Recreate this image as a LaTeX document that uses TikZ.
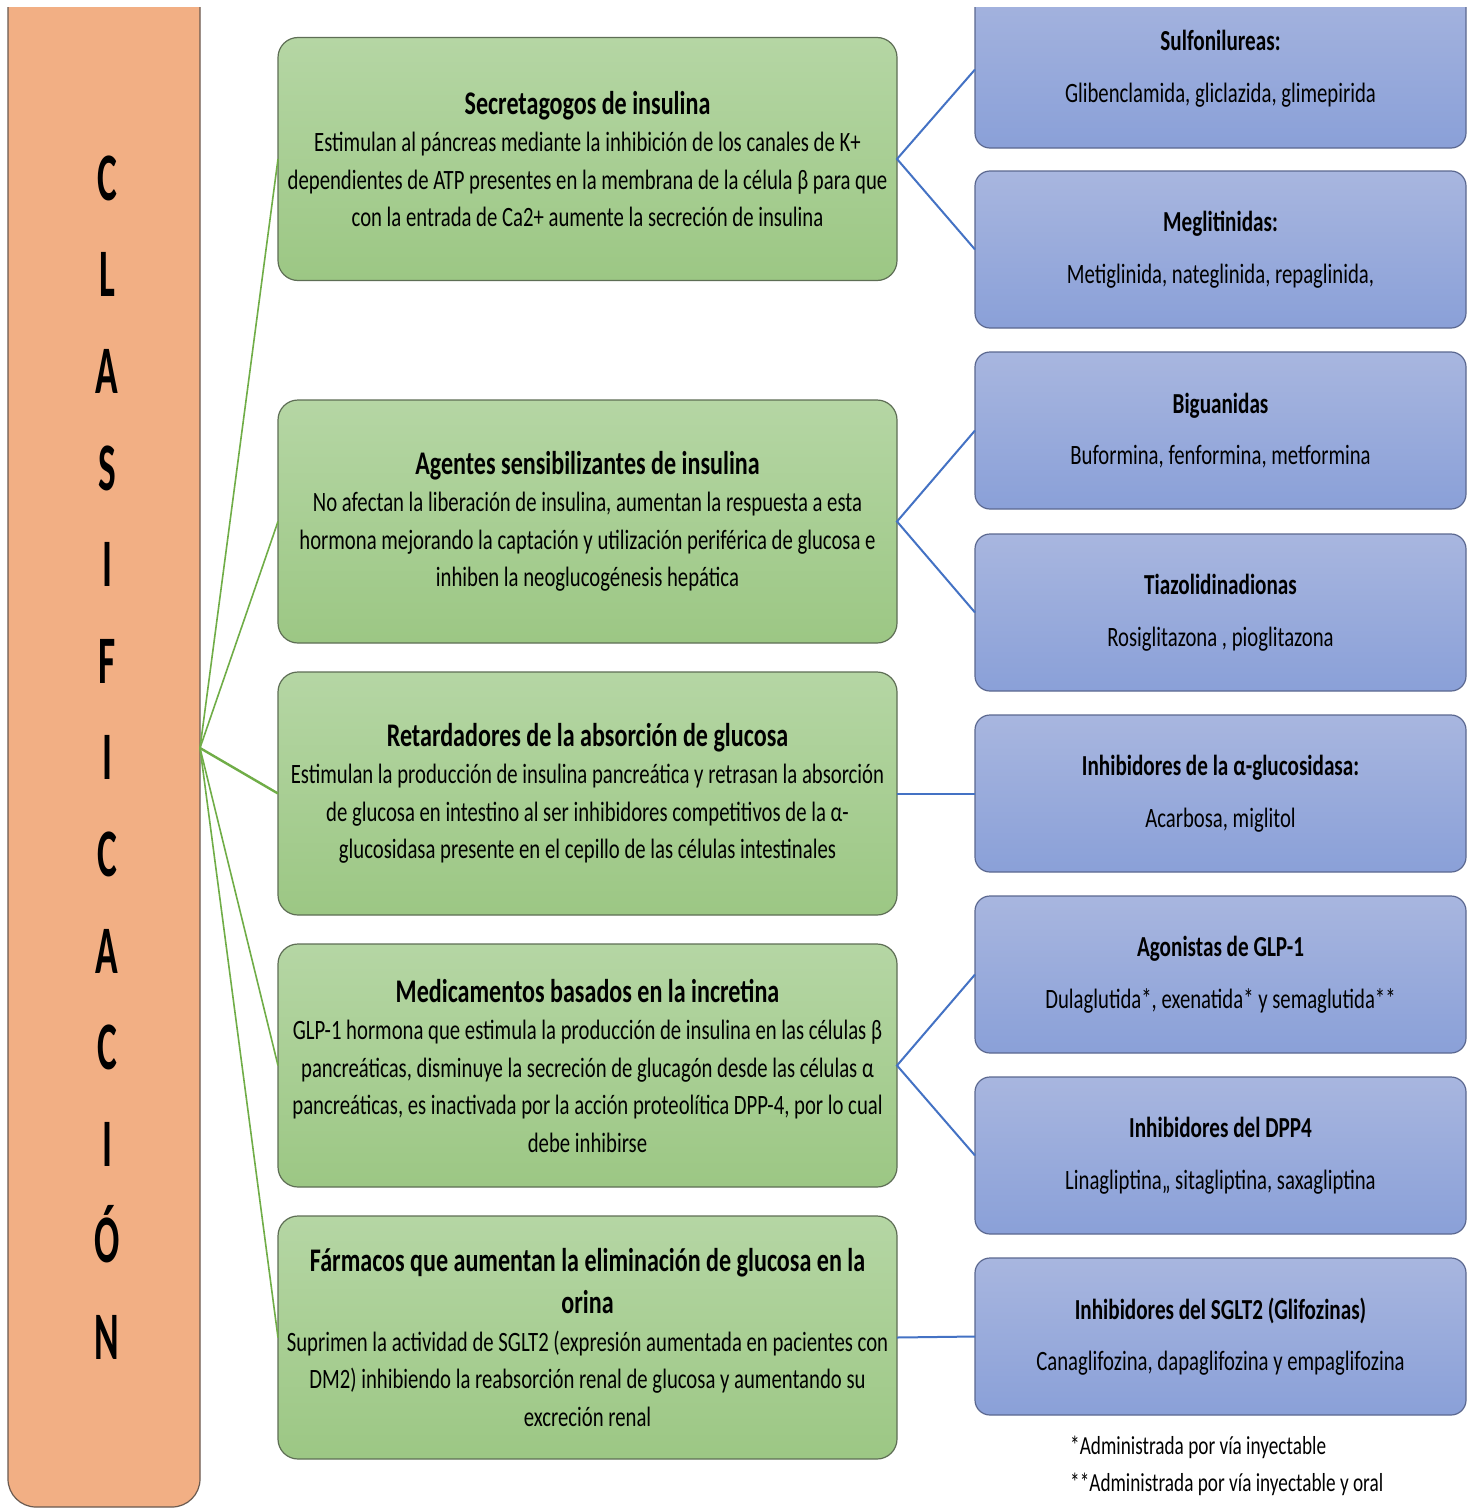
\documentclass[tikz,border=0pt]{standalone}
\usepackage{fontspec}
\setmainfont{Carlito}[FakeStretch=0.74]
\newfontfamily\titlefam{Carlito}[FakeStretch=0.73]
\newfontfamily\bigletters{Carlito}[FakeStretch=0.55]
\definecolor{orangefill}{HTML}{F2AF84}
\definecolor{greentop}{HTML}{B5D6A4}
\definecolor{greenbot}{HTML}{9CC784}
\definecolor{bluetop}{HTML}{A8B6DF}
\definecolor{bluebot}{HTML}{8AA0D8}
\definecolor{greenline}{HTML}{70AD47}
\definecolor{blueline}{HTML}{4472C4}
\definecolor{greenborder}{HTML}{5E6E55}
\definecolor{blueborder}{HTML}{5B6890}
\definecolor{orangeborder}{HTML}{6A5A50}
\newcommand{\gtitle}{\titlefam\fontsize{33}{43}\selectfont\bfseries}
\newcommand{\btitle}{\titlefam\fontsize{29}{40}\selectfont\bfseries}
\tikzset{
  greenbox/.style={draw=greenborder, line width=1.2pt, rounded corners=20pt,
    top color=greentop, bottom color=greenbot, minimum width=619pt,
    minimum height=243pt, inner sep=0pt, outer sep=0pt},
  bluebox/.style={draw=blueborder, line width=1.2pt, rounded corners=15pt,
    top color=bluetop, bottom color=bluebot, minimum width=491pt,
    minimum height=157pt, inner sep=0pt, outer sep=0pt},
  gtext/.style={align=center, font=\fontsize{28}{37.5}\selectfont, inner sep=0pt},
  btext/.style={align=center, font=\fontsize{28}{37.5}\selectfont, inner sep=0pt},
  glink/.style={draw=greenline, line width=1.6pt},
  blink/.style={draw=blueline, line width=2pt},
}
\begin{document}
\begin{tikzpicture}[x=1pt, y=-1pt]
\useasboundingbox (0,0) rectangle (1473,1509);
\fill[white] (0,0) rectangle (1473,1509);
\begin{scope}
\clip (0,8) rectangle (1473,1509);
% orange column
\node[draw=orangeborder, line width=1.2pt, fill=orangefill, rounded corners=28pt,
  minimum width=192pt, minimum height=1580pt, inner sep=0pt, outer sep=0pt]
  (clas) at (104,717) {};
\node[align=center, inner sep=0pt, font=\bigletters\fontsize{68}{96.6}\selectfont\bfseries]
  (clastext) at (107,757.5) {C\\L\\A\\S\\I\\F\\I\\C\\A\\C\\I\\Ó\\N};

% green boxes
\node[greenbox] (g1) at (587.5,159) {};
\node[greenbox] (g2) at (587.5,521.5) {};
\node[greenbox] (g3) at (587.5,793.5) {};
\node[greenbox] (g4) at (587.5,1065.5) {};
\node[greenbox] (g5) at (587.5,1337.5) {};

% blue boxes
\node[bluebox, minimum height=176pt] (b1) at (1220.5,60) {};
\node[bluebox] (b2) at (1220.5,249.5) {};
\node[bluebox] (b3) at (1220.5,430.5) {};
\node[bluebox] (b4) at (1220.5,612.5) {};
\node[bluebox] (b5) at (1220.5,793.5) {};
\node[bluebox] (b6) at (1220.5,974.5) {};
\node[bluebox] (b7) at (1220.5,1155.5) {};
\node[bluebox] (b8) at (1220.5,1336.5) {};
\end{scope}

% connectors
\coordinate (hub) at (200,748);
\draw[glink] (hub) -- (g1.west);
\draw[glink] (hub) -- (g2.west);
\draw[glink, line width=2.4pt] (hub) -- (g3.west);
\draw[glink] (hub) -- (g4.west);
\draw[glink] (hub) -- (g5.west);

\coordinate (b1w) at (975,69.5);
\draw[blink] (b1w) -- (g1.east) -- (b2.west);
\draw[blink] (b3.west) -- (g2.east) -- (b4.west);
\draw[blink] (g3.east) -- (b5.west);
\draw[blink] (b6.west) -- (g4.east) -- (b7.west);
\draw[blink] (g5.east) -- (b8.west);

% green texts
\node[gtext] (t1) at (g1) {{\gtitle Secretagogos de insulina}\\
Estimulan al páncreas mediante la inhibición de los canales de K+\\
dependientes de ATP presentes en la membrana de la célula β para que\\
con la entrada de Ca2+ aumente la secreción de insulina};
\node[gtext] (t2) at (g2) {{\gtitle Agentes sensibilizantes de insulina}\\
No afectan la liberación de insulina, aumentan la respuesta a esta\\
hormona mejorando la captación y utilización periférica de glucosa e\\
inhiben la neoglucogénesis hepática};
\node[gtext] (t3) at (g3) {{\gtitle Retardadores de la absorción de glucosa}\\
Estimulan la producción de insulina pancreática y retrasan la absorción\\
de glucosa en intestino al ser inhibidores competitivos de la α-\\
glucosidasa presente en el cepillo de las células intestinales};
\node[gtext] (t4) at (g4) {{\gtitle Medicamentos basados en la incretina}\\
GLP-1 hormona que estimula la producción de insulina en las células β\\
pancreáticas, disminuye la secreción de glucagón desde las células α\\
pancreáticas, es inactivada por la acción proteolítica DPP-4, por lo cual\\
debe inhibirse};
\node[gtext] (t5) at (g5) {{\gtitle Fármacos que aumentan la eliminación de glucosa en la}\\[5pt]
{\gtitle orina}\\
Suprimen la actividad de SGLT2 (expresión aumentada en pacientes con\\
DM2) inhibiendo la reabsorción renal de glucosa y aumentando su\\
excreción renal};

% blue texts
\node[btext] (u1) at (1220.5,68.5) {{\btitle Sulfonilureas:}\\[14pt] Glibenclamida, gliclazida, glimepirida};
\node[btext] (u2) at (b2) {{\btitle Meglitinidas:}\\[14pt] Metiglinida, nateglinida, repaglinida,};
\node[btext] (u3) at (b3) {{\btitle Biguanidas}\\[14pt] Buformina, fenformina, metformina};
\node[btext] (u4) at (b4) {{\btitle Tiazolidinadionas}\\[14pt] Rosiglitazona , pioglitazona};
\node[btext] (u5) at (b5) {{\btitle Inhibidores de la α-glucosidasa:}\\[14pt] Acarbosa, miglitol};
\node[btext] (u6) at (b6) {{\btitle Agonistas de GLP-1}\\[14pt] Dulaglutida*, exenatida* y semaglutida**};
\node[btext] (u7) at (b7) {{\btitle Inhibidores del DPP4}\\[14pt] Linagliptina,, sitagliptina, saxagliptina};
\node[btext] (u8) at (b8) {{\btitle Inhibidores del SGLT2 (Glifozinas)}\\[14pt] Canaglifozina, dapaglifozina y empaglifozina};

% footnotes
\node[anchor=west, align=left, inner sep=0pt, font=\fontsize{26}{37.5}\selectfont]
  (foot) at (1070,1466) {*Administrada por vía inyectable\\**Administrada por vía inyectable y oral};
\end{tikzpicture}
\end{document}
